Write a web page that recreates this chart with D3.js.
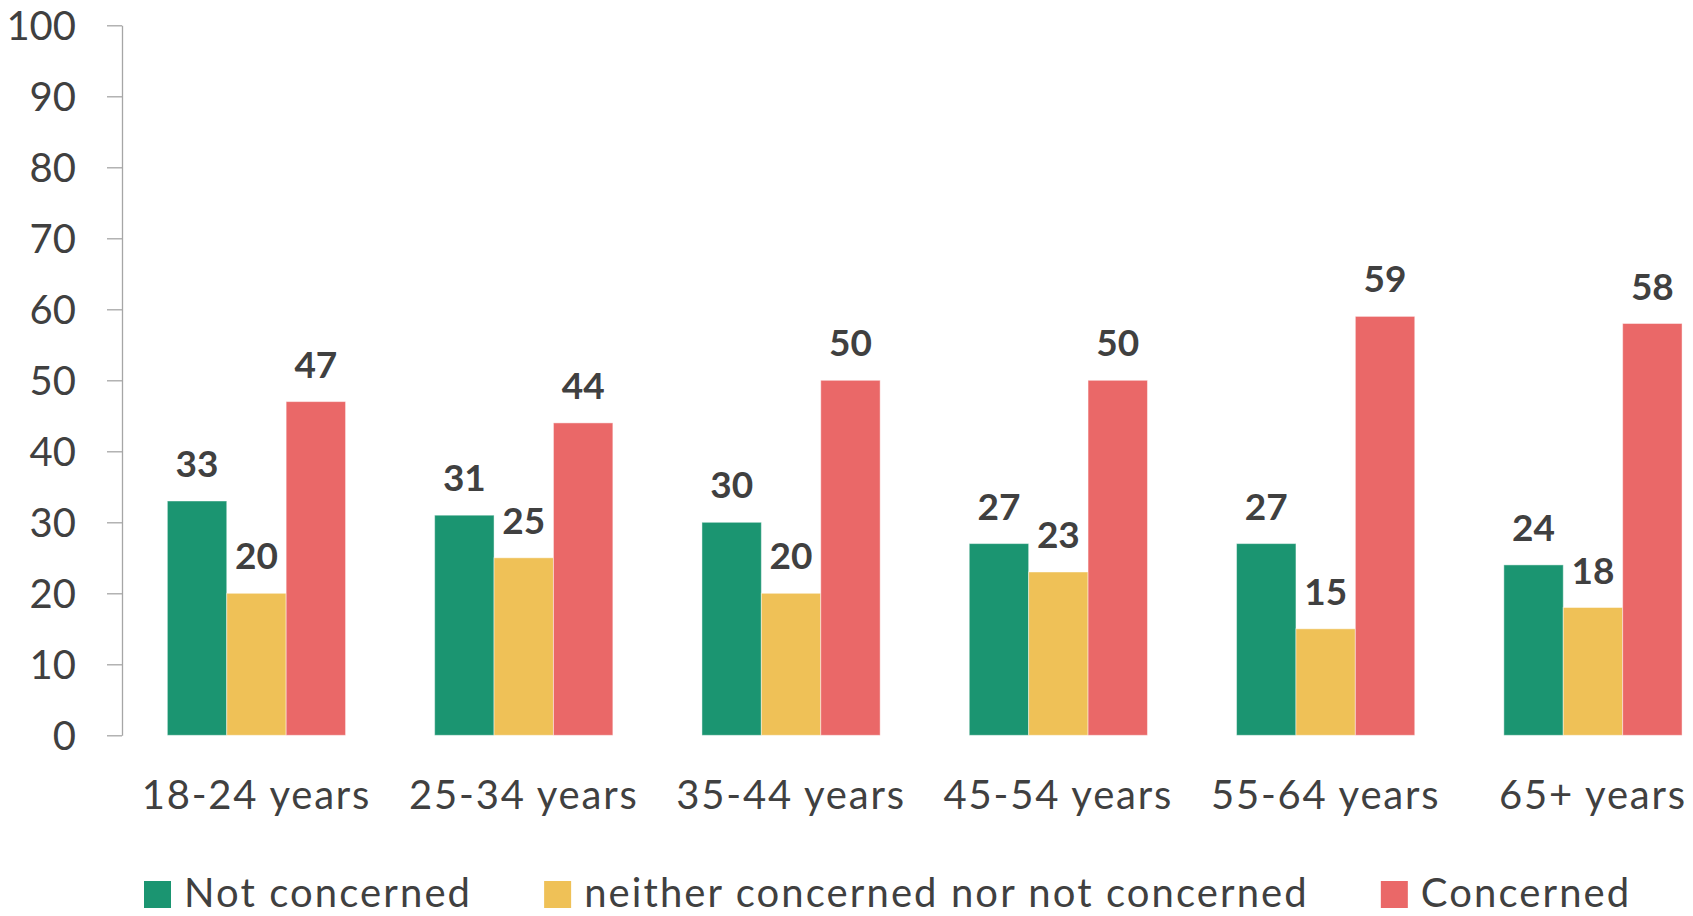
<!DOCTYPE html>
<html>
<head>
<meta charset="utf-8">
<script src="https://cdn.jsdelivr.net/npm/d3@7"></script>
<style>
  html, body { margin: 0; padding: 0; background: #ffffff; }
  svg { display: block; font-family: Lato, "Open Sans", sans-serif; }
</style>
</head>
<body>
<svg id="chart" width="1693" height="916"></svg>
<script>
// Age groups along the x axis
const categories = ["18-24 years", "25-34 years", "35-44 years", "45-54 years", "55-64 years", "65+ years"];

// Series names (legend order) and their values per age group, in %
const seriesNames = ["Not concerned", "neither concerned nor not concerned", "Concerned"];
const notConcerned = [33, 31, 30, 27, 27, 24];
const neitherConcerned = [20, 25, 20, 23, 15, 18];
const concerned = [47, 44, 50, 50, 59, 58];

// Y axis tick values
const yTicks = [0, 10, 20, 30, 40, 50, 60, 70, 80, 90, 100];

const seriesColors = ["#1b9571", "#efc157", "#ea6868"];
const seriesValues = [notConcerned, neitherConcerned, concerned];

const textColor = "#404040";
const svg = d3.select("#chart");

const y = d3.scaleLinear().domain([0, 100]).range([735.3, 25.3]);

const x = d3.scaleBand()
  .domain(categories)
  .range([122.8, 1726.6])
  .paddingInner(1 / 3)
  .paddingOuter(1 / 6);

const xSeries = d3.scaleBand()
  .domain(seriesNames)
  .range([0, x.bandwidth()]);

const color = d3.scaleOrdinal().domain(seriesNames).range(seriesColors);

// Rows: one per age group, holding each series' value
const rows = categories.map((c, i) => ({
  category: c,
  values: seriesNames.map((s, j) => ({ series: s, value: seriesValues[j][i] }))
}));

// Y axis
const yAxis = svg.append("g")
  .attr("transform", "translate(122,0)")
  .call(d3.axisLeft(y).tickValues(yTicks).tickSize(15).tickSizeOuter(0).tickPadding(31).tickFormat(d3.format("d")));
yAxis.select(".domain").attr("stroke", "#a6a6a6").attr("stroke-width", 1.3);
yAxis.selectAll(".tick line").attr("stroke", "#a6a6a6").attr("stroke-width", 1.3);
yAxis.selectAll(".tick text")
  .attr("fill", textColor)
  .attr("font-size", 40)
  .attr("font-family", "Lato, sans-serif")
  .attr("dy", "0.35em");

// X axis labels (no line, no ticks)
const xAxis = svg.append("g")
  .attr("transform", `translate(0,${y(0)})`)
  .call(d3.axisBottom(x).tickSize(0).tickPadding(45));
xAxis.select(".domain").remove();
xAxis.selectAll(".tick text")
  .attr("fill", textColor)
  .attr("font-size", 40)
  .attr("letter-spacing", 1.8)
  .attr("font-family", "Lato, sans-serif");

// Grouped bars
const groups = svg.append("g")
  .selectAll("g")
  .data(rows)
  .join("g")
  .attr("transform", d => `translate(${x(d.category)},0)`);

groups.selectAll("rect")
  .data(d => d.values)
  .join("rect")
  .attr("x", d => xSeries(d.series))
  .attr("y", d => y(d.value))
  .attr("width", xSeries.bandwidth())
  .attr("height", d => y(0) - y(d.value))
  .attr("fill", d => color(d.series))
  .attr("stroke", "rgba(255,255,255,0.45)")
  .attr("stroke-width", 1);

// Value labels above each bar
groups.selectAll("text.value")
  .data(d => d.values)
  .join("text")
  .attr("class", "value")
  .attr("x", d => xSeries(d.series) + xSeries.bandwidth() / 2)
  .attr("y", d => y(d.value) - 24)
  .attr("text-anchor", "middle")
  .attr("font-size", 37)
  .attr("font-weight", "bold")
  .attr("font-family", "Lato, sans-serif")
  .attr("fill", textColor)
  .text(d => d3.format(".0f")(d.value));

// Legend along the bottom
const legend = svg.append("g").attr("transform", "translate(144,881)");
let cursor = 0;
seriesNames.forEach(name => {
  const item = legend.append("g").attr("transform", `translate(${cursor},0)`);
  item.append("rect")
    .attr("width", 27)
    .attr("height", 27)
    .attr("fill", color(name));
  const label = item.append("text")
    .attr("x", 40)
    .attr("y", 26)
    .attr("font-size", 40)
    .attr("letter-spacing", 2.1)
    .attr("font-family", "Lato, sans-serif")
    .attr("fill", textColor)
    .text(name);
  cursor += 40 + label.node().getComputedTextLength() + 72;
});
</script>
</body>
</html>
